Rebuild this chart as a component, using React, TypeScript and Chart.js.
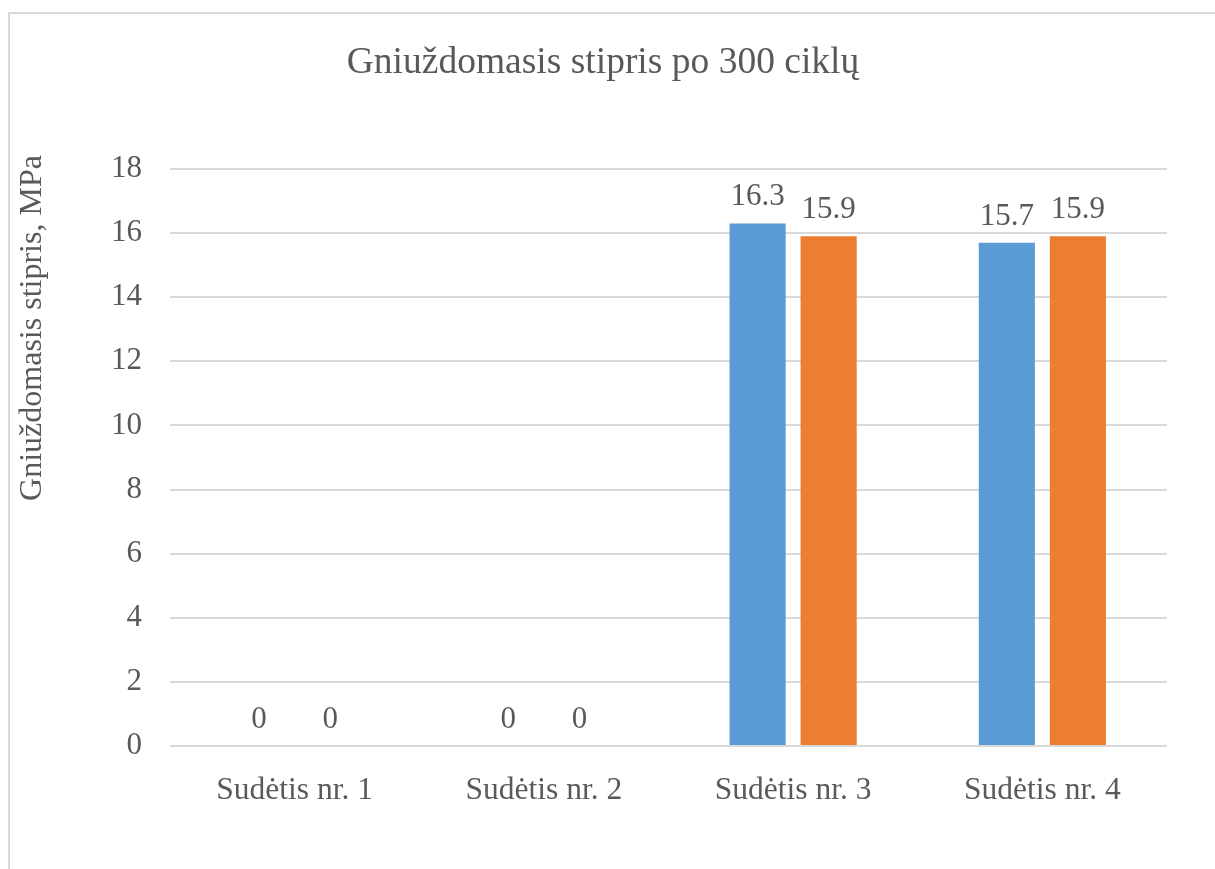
import { useEffect, useRef } from "react";
import { Chart, registerables } from "chart.js";

Chart.register(...registerables);

// Data
const categories = ["Sudėtis nr. 1", "Sudėtis nr. 2", "Sudėtis nr. 3", "Sudėtis nr. 4"];
const seriesNames = ["Serija 1", "Serija 2"];
const series1Values = [0, 0, 16.3, 15.7];
const series2Values = [0, 0, 15.9, 15.9];
const yTicks = [0, 2, 4, 6, 8, 10, 12, 14, 16, 18];

const chartTitle = "Gniuždomasis stipris po 300 ciklų";
const yAxisTitle = "Gniuždomasis stipris, MPa";

// Styles
const FONT = "'Liberation Serif', 'Times New Roman', serif";
const TEXT_COLOR = "#595959";
const GRID_COLOR = "#D9D9D9";
const BLUE = "#5B9BD5";
const ORANGE = "#ED7D31";

// Draws value labels above bars, the chart title and the rotated y-axis title
const textPlugin = {
  id: "chartTexts",
  afterDatasetsDraw(chart: any) {
    const ctx = chart.ctx as CanvasRenderingContext2D;
    ctx.save();
    ctx.fillStyle = TEXT_COLOR;
    ctx.textAlign = "center";
    ctx.textBaseline = "alphabetic";
    ctx.font = `31px ${FONT}`;
    chart.data.datasets.forEach((ds: any, i: number) => {
      const meta = chart.getDatasetMeta(i);
      meta.data.forEach((bar: any, j: number) => {
        ctx.fillText(String(ds.data[j]), bar.x, bar.y - 18);
      });
    });

    ctx.font = `37.5px ${FONT}`;
    ctx.fillText(chartTitle, 593, 59);

    ctx.translate(22.5, 314);
    ctx.rotate(-Math.PI / 2);
    ctx.font = `32px ${FONT}`;
    ctx.textBaseline = "middle";
    ctx.fillText(yAxisTitle, 0, 0);
    ctx.restore();
  },
};

export default function App() {
  const canvasRef = useRef<HTMLCanvasElement | null>(null);

  useEffect(() => {
    if (!canvasRef.current) return;
    const chart = new Chart(canvasRef.current, {
      type: "bar",
      data: {
        labels: categories,
        datasets: [
          { label: seriesNames[0], data: series1Values, backgroundColor: BLUE, borderWidth: 0 },
          { label: seriesNames[1], data: series2Values, backgroundColor: ORANGE, borderWidth: 0 },
        ],
      },
      options: {
        animation: false,
        responsive: false,
        maintainAspectRatio: false,
        layout: { padding: { top: 155, right: 48, left: 0, bottom: 0 } },
        datasets: { bar: { categoryPercentage: 0.57, barPercentage: 0.79 } },
        plugins: {
          legend: { display: false },
          title: { display: false },
          tooltip: { enabled: false },
        },
        scales: {
          x: {
            grid: { display: false },
            border: { display: false },
            ticks: {
              color: TEXT_COLOR,
              font: { family: FONT, size: 31.5 },
              padding: 17.5,
              maxRotation: 0,
              autoSkip: false,
            },
            afterFit(scale: any) {
              scale.height = 123;
            },
          },
          y: {
            min: yTicks[0],
            max: yTicks[yTicks.length - 1],
            afterBuildTicks(scale: any) {
              scale.ticks = yTicks.map((v) => ({ value: v }));
            },
            grid: { color: GRID_COLOR, lineWidth: 2, drawTicks: false },
            border: { display: false },
            ticks: {
              color: TEXT_COLOR,
              font: { family: FONT, size: 31 },
              padding: 28,
            },
            afterFit(scale: any) {
              scale.width = 160;
            },
          },
        },
      },
      plugins: [textPlugin],
    });
    return () => chart.destroy();
  }, []);

  return (
    <div
      style={{
        position: "fixed",
        left: 8,
        top: 12,
        width: 1207,
        height: 857,
        boxSizing: "border-box",
        borderTop: `2px solid ${GRID_COLOR}`,
        borderLeft: `2px solid ${GRID_COLOR}`,
        background: "#fff",
      }}
    >
      <canvas ref={canvasRef} width={1205} height={855} style={{ display: "block" }} />
    </div>
  );
}
